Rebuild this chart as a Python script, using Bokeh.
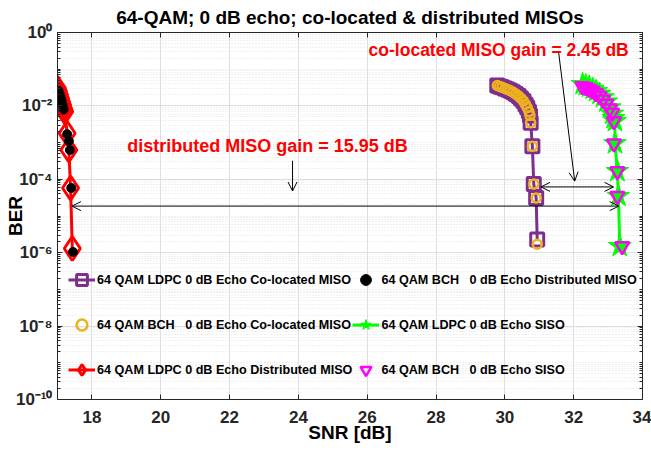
from bokeh.plotting import figure
from bokeh.models import (FixedTicker, Legend, LegendItem, Label, Arrow, OpenHead,
                          LinearAxis, LogAxis)
from bokeh.embed import file_html
from bokeh.resources import INLINE

# ---------------- data ----------------
snr_ldpc_col = [29.78, 29.85, 29.92, 30.0, 30.08, 30.16, 30.24, 30.32, 30.4, 30.47, 30.54,
                30.6, 30.65, 30.7, 30.73, 30.75, 30.8, 30.84, 30.91, 30.94]
ber_ldpc_col = [3.6e-2, 3.4e-2, 3.2e-2, 3.0e-2, 2.8e-2, 2.6e-2, 2.35e-2, 2.1e-2, 1.85e-2, 1.6e-2, 1.35e-2,
                1.1e-2, 9.0e-3, 7.0e-3, 5.5e-3, 3.5e-3, 7.9e-4, 7.4e-5, 3.1e-5, 2.3e-6]
snr_bch_col = [29.78, 29.85, 29.92, 30.0, 30.08, 30.16, 30.24, 30.32, 30.4, 30.47, 30.54,
               30.6, 30.65, 30.7, 30.73, 30.75, 30.8, 30.84, 30.91, 30.94]
ber_bch_col = [3.6e-2, 3.4e-2, 3.2e-2, 3.0e-2, 2.8e-2, 2.6e-2, 2.35e-2, 2.1e-2, 1.85e-2, 1.6e-2, 1.35e-2,
               1.1e-2, 9.0e-3, 7.0e-3, 5.5e-3, 3.5e-3, 7.9e-4, 7.4e-5, 3.1e-5, 1.7e-6]
snr_ldpc_dist = [17.0, 17.03, 17.06, 17.09, 17.12, 17.15, 17.18, 17.21, 17.28, 17.33, 17.38, 17.43]
ber_ldpc_dist = [3.0e-2, 2.5e-2, 2.0e-2, 1.6e-2, 1.3e-2, 1.05e-2, 8.5e-3, 7.0e-3, 1.8e-3, 6.3e-4, 5.8e-5, 1.3e-6]
snr_bch_dist = [17.03, 17.06, 17.09, 17.12, 17.15, 17.18, 17.28, 17.33, 17.36, 17.40, 17.45]
ber_bch_dist = [2.6e-2, 2.1e-2, 1.7e-2, 1.35e-2, 1.05e-2, 8.0e-3, 1.7e-3, 1.1e-3, 6.3e-4, 5.8e-5, 1.05e-6]
snr_ldpc_siso = [32.26, 32.35, 32.45, 32.55, 32.65, 32.75, 32.85, 32.95, 33.05, 33.12, 33.16,
                 33.2, 33.2, 33.27, 33.3, 33.34]
ber_ldpc_siso = [3.9e-2, 3.6e-2, 3.3e-2, 2.9e-2, 2.5e-2, 2.1e-2, 1.7e-2, 1.3e-2, 9.0e-3, 6.0e-3, 4.6e-3,
                 3.8e-3, 9.5e-4, 1.66e-4, 3.5e-5, 1.5e-6]
snr_bch_siso = [32.25, 32.35, 32.45, 32.55, 32.65, 32.75, 32.85, 32.95, 33.05, 33.12, 33.17,
                33.17, 33.27, 33.27, 33.41]
ber_bch_siso = [3.4e-2, 3.2e-2, 2.9e-2, 2.6e-2, 2.2e-2, 1.85e-2, 1.5e-2, 1.15e-2, 8.5e-3, 6.5e-3, 3.8e-3,
                9.5e-4, 1.66e-4, 3.5e-5, 1.5e-6]

x_ticks = [18, 20, 22, 24, 26, 28, 30, 32, 34]
y_ticks = [1e-10, 1e-8, 1e-6, 1e-4, 1e-2, 1]
y_tick_labels = ["10\u207b\u00b9\u2070", "10\u207b\u2078", "10\u207b\u2076", "10\u207b\u2074",
                 "10\u207b\u00b2", "10\u2070"]

FONT = "Liberation Sans"
PURPLE = "#7E2F8E"
ORANGE = "#EDB120"

p = figure(width=651, height=453, x_range=(17, 34), y_range=(1e-10, 1),
           y_axis_type="log", output_backend="svg", toolbar_location=None,
           min_border_left=57, min_border_right=9, min_border_top=31, min_border_bottom=54)

p.title.text = "64-QAM; 0 dB echo; co-located & distributed MISOs"
p.title.align = "center"
p.title.text_font = FONT
p.title.text_font_size = "19px"
p.title.text_font_style = "bold"
p.title.text_color = "#000000"
p.title.standoff = 9

minor_y = []
for e in range(-10, 0):
    for m in range(1, 10):
        if m == 1 and e % 2 == 0:
            continue
        minor_y.append(m * 10.0 ** e)

p.xaxis.ticker = FixedTicker(ticks=x_ticks)
p.yaxis.ticker = FixedTicker(ticks=y_ticks, minor_ticks=minor_y)
p.yaxis.major_label_overrides = dict(zip(y_ticks, y_tick_labels))
for ax in (p.xaxis[0], p.yaxis[0]):
    ax.major_label_text_font = FONT
    ax.major_label_text_font_style = "bold"
    ax.major_label_text_font_size = "17px"
    ax.major_label_text_color = "#262626"
    ax.axis_line_color = "#262626"
    ax.major_tick_line_color = "#262626"
    ax.minor_tick_line_color = "#262626"
    ax.major_tick_in = 5
    ax.major_tick_out = 0
    ax.minor_tick_in = 3
    ax.minor_tick_out = 0
    ax.axis_label_text_font = FONT
    ax.axis_label_text_font_style = "bold"
    ax.axis_label_text_font_size = "19px"
    ax.axis_label_text_color = "#000000"
p.xaxis.axis_label = "SNR [dB]"
p.xaxis.major_label_standoff = 11
p.xaxis.axis_label_standoff = -4
p.yaxis.axis_label = "BER"
p.yaxis.major_label_standoff = 5
p.yaxis.axis_label_standoff = -13

top = LinearAxis(ticker=FixedTicker(ticks=x_ticks), major_label_text_font_size="1px",
                 major_label_overrides={t: "" for t in x_ticks},
                 major_label_standoff=0, major_tick_in=5, major_tick_out=0,
                 minor_tick_out=0, minor_tick_in=0, axis_line_color="#262626",
                 major_tick_line_color="#262626")
p.add_layout(top, "above")
right = LogAxis(ticker=FixedTicker(ticks=y_ticks, minor_ticks=minor_y), major_label_text_font_size="1px",
                major_label_overrides={t: "" for t in y_ticks},
                major_label_standoff=0, major_tick_in=5, major_tick_out=0,
                minor_tick_in=3, minor_tick_out=0, axis_line_color="#262626",
                major_tick_line_color="#262626", minor_tick_line_color="#262626")
p.add_layout(right, "right")

p.outline_line_color = "#262626"
p.xgrid.grid_line_color = "#dedede"
p.ygrid.grid_line_color = "#dedede"
p.ygrid.minor_grid_line_color = "#e2e2e2"
p.ygrid.minor_grid_line_dash = "1 2"

# series
l1 = p.line(snr_ldpc_col, ber_ldpc_col, line_color=PURPLE, line_width=3)
s1 = p.scatter(snr_ldpc_col, ber_ldpc_col, marker="square", size=13, line_color=PURPLE,
               line_width=3, fill_color=None)
s2 = p.scatter(snr_bch_col, ber_bch_col, marker="circle", size=9, line_color=ORANGE,
               line_width=2.5, fill_color=None)
l3 = p.line(snr_ldpc_dist, ber_ldpc_dist, line_color="#FF0000", line_width=3)
s3 = p.scatter(snr_ldpc_dist, ber_ldpc_dist, marker="diamond", size=24, line_color="#FF0000",
               line_width=3, fill_color=None)
s4 = p.scatter(snr_bch_dist, ber_bch_dist, marker="circle", size=9, line_color="#000000",
               fill_color="#000000")
l5 = p.line(snr_ldpc_siso, ber_ldpc_siso, line_color="#00FF00", line_width=3)
s5 = p.scatter(snr_ldpc_siso, ber_ldpc_siso, marker="star", size=24, line_color="#00FF00",
               fill_color="#00FF00")
s6 = p.scatter(snr_bch_siso, ber_bch_siso, marker="inverted_triangle", size=14, line_color="#FF00FF",
               line_width=2.5, fill_color=None)

legend = Legend(items=[
    LegendItem(label="64 QAM LDPC 0 dB Echo Co-located MISO", renderers=[l1, s1]),
    LegendItem(label="64 QAM BCH   0 dB Echo Co-located MISO", renderers=[s2]),
    LegendItem(label="64 QAM LDPC 0 dB Echo Distributed MISO", renderers=[l3, s3]),
    LegendItem(label="64 QAM BCH   0 dB Echo Distributed MISO", renderers=[s4]),
    LegendItem(label="64 QAM LDPC 0 dB Echo SISO", renderers=[l5, s5]),
    LegendItem(label="64 QAM BCH   0 dB Echo SISO", renderers=[s6]),
], ncols=2, location=(6, 2))
legend.label_text_font = FONT
legend.label_text_font_style = "bold"
legend.label_text_font_size = "12.6px"
legend.label_text_color = "#000000"
legend.glyph_width = 27
legend.glyph_height = 45
legend.label_height = 45
legend.spacing = 0
legend.padding = 5
legend.label_standoff = 2
legend.background_fill_alpha = 0
legend.border_line_alpha = 0
p.add_layout(legend)

# annotations
p.add_layout(Arrow(start=OpenHead(size=9, line_width=1), end=OpenHead(size=9, line_width=1),
                   x_start=17.42, y_start=1.86e-5, x_end=33.31, y_end=1.86e-5,
                   line_width=1, line_color="#000000"))
p.add_layout(Arrow(start=OpenHead(size=9, line_width=1), end=OpenHead(size=9, line_width=1),
                   x_start=31.05, y_start=6.2e-5, x_end=33.16, y_end=6.2e-5,
                   line_width=1, line_color="#000000"))
p.add_layout(Arrow(end=OpenHead(size=9, line_width=1), x_start=31.56, y_start=0.3,
                   x_end=32.03, y_end=8.9e-5, line_width=1, line_color="#000000"))
p.add_layout(Arrow(end=OpenHead(size=9, line_width=1), x_start=23.83, y_start=3.2e-4,
                   x_end=23.83, y_end=4.8e-5, line_width=1, line_color="#000000"))
p.add_layout(Label(x=23.1, y=7.9e-4, text="distributed MISO gain = 15.95 dB", text_color="#FF0000",
                   text_font=FONT, text_font_style="bold", text_font_size="18px",
                   text_align="center", text_baseline="middle"))
p.add_layout(Label(x=33.6, y=0.33, text="co-located MISO gain = 2.45 dB", text_color="#FF0000",
                   text_font=FONT, text_font_style="bold", text_font_size="17.5px",
                   text_align="right", text_baseline="middle"))

open("out.html", "w").write(file_html(p, INLINE))
